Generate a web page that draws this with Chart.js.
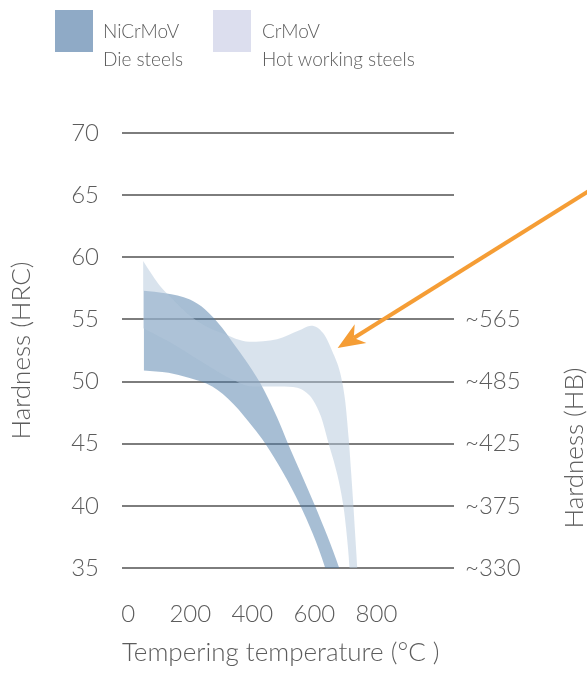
<!DOCTYPE html>
<html>
<head>
<meta charset="utf-8">
<script src="https://cdn.jsdelivr.net/npm/chart.js@4.4.1/dist/chart.umd.min.js"></script>
<style>
  html, body { margin: 0; padding: 0; background: #fff; }
  #wrap { position: relative; width: 587px; height: 692px; overflow: hidden; }
  #chart { position: absolute; left: 0; top: 0; }
  .txt { position: absolute; font-family: Lato, "Open Sans", sans-serif; font-weight: 300; color: #5c5c5c; white-space: nowrap; }
  .legend-swatch { position: absolute; width: 38px; height: 42px; }
  .legend-text { font-size: 19px; line-height: 28px; }
  #hbTitle { font-size: 26px; width: 240px; height: 32px; line-height: 32px; text-align: center;
             left: 453px; top: 432px; transform: rotate(-90deg); transform-origin: 50% 50%; }
</style>
</head>
<body>
<div id="wrap">
  <canvas id="chart" width="587" height="692"></canvas>
  <div class="legend-swatch" style="left:55px; top:10px; background:#8faac6;"></div>
  <div class="txt legend-text" style="left:103px; top:17px;">NiCrMoV<br>Die steels</div>
  <div class="legend-swatch" style="left:213px; top:10px; background:#dcdeee;"></div>
  <div class="txt legend-text" style="left:262px; top:17px;">CrMoV<br>Hot working steels</div>
  <div class="txt" id="hbTitle">Hardness (HB)</div>
</div>
<script>
// Hardness band of NiCrMoV die steels (tempering temperature °C -> HRC)
const nicrmovUpperTemp = [50, 119, 199, 248, 302, 344, 376, 425, 480, 515, 602, 680, 710];
const nicrmovUpperHrc  = [57.3, 57.1, 56.6, 55.8, 54.35, 52.9, 51.8, 49.9, 47.1, 45.0, 40.0, 35.0, 32.5];
const nicrmovLowerTemp = [50, 130, 195, 271, 339, 403, 442, 555, 635, 710];
const nicrmovLowerHrc  = [50.9, 50.7, 50.3, 49.6, 48.2, 46.3, 45.0, 40.0, 35.0, 28.0];

// Hardness band of CrMoV hot working steels (secondary hardening peak near 600 °C)
const crmovUpperTemp = [48, 77, 102, 120, 160, 199, 248, 302, 390, 480, 550, 590, 628, 660, 683, 699, 711, 719, 726, 732, 738, 750];
const crmovUpperHrc  = [59.7, 58.6, 57.7, 57.2, 56.2, 55.3, 54.5, 53.9, 53.2, 53.4, 54.1, 54.5, 53.9, 52.3, 50.7, 48.5, 45.3, 42.5, 39.9, 37.5, 35.1, 28.0];
const crmovLowerTemp = [48, 125, 230, 340, 400, 490, 545, 575, 596, 621, 645, 674, 694, 705, 713, 740];
const crmovLowerHrc  = [54.3, 53.3, 51.7, 50.1, 49.6, 49.6, 49.5, 49.1, 48.5, 47.2, 45.1, 42.5, 39.9, 37.5, 35.1, 20.0];

// Axis ticks
const tempTicks = [0, 200, 400, 600, 800];
const hrcTicks = [35, 40, 45, 50, 55, 60, 65, 70];
const hbTickHrc = [55, 50, 45, 40, 35];
const hbTickLabels = ['~565', '~485', '~425', '~375', '~330'];

// Arrow pointing at the secondary hardening peak (data coordinates)
const peakArrow = { from: { x: 1540, y: 66.2 }, to: { x: 675, y: 52.7 } };

function edge(temps, hrc) {
  return temps.map((t, i) => ({ x: t, y: hrc[i] }));
}

const TICK_FONT = { family: 'Lato, "Open Sans", sans-serif', size: 24, weight: '300' };
const TITLE_FONT = { family: 'Lato, "Open Sans", sans-serif', size: 26, weight: '300' };
const TEXT = '#5c5c5c';

const edgeStyle = { borderWidth: 0, pointRadius: 0, cubicInterpolationMode: 'monotone' };

const arrowPlugin = {
  id: 'peakArrow',
  afterDraw(chart) {
    const { ctx, scales: { x, y } } = chart;
    const x1 = x.getPixelForValue(peakArrow.from.x), y1 = y.getPixelForValue(peakArrow.from.y);
    const x2 = x.getPixelForValue(peakArrow.to.x), y2 = y.getPixelForValue(peakArrow.to.y);
    const len = Math.hypot(x1 - x2, y1 - y2);
    const ux = (x1 - x2) / len, uy = (y1 - y2) / len;
    const nx = -uy, ny = ux;
    const headLen = 27, headHalf = 11, notch = 19;
    ctx.save();
    ctx.strokeStyle = '#f59d35';
    ctx.fillStyle = '#f59d35';
    ctx.lineWidth = 4;
    ctx.beginPath();
    ctx.moveTo(x1, y1);
    ctx.lineTo(x2 + ux * notch, y2 + uy * notch);
    ctx.stroke();
    ctx.beginPath();
    ctx.moveTo(x2, y2);
    ctx.lineTo(x2 + ux * headLen + nx * headHalf, y2 + uy * headLen + ny * headHalf);
    ctx.lineTo(x2 + ux * notch, y2 + uy * notch);
    ctx.lineTo(x2 + ux * headLen - nx * headHalf, y2 + uy * headLen - ny * headHalf);
    ctx.closePath();
    ctx.fill();
    ctx.restore();
  }
};

new Chart(document.getElementById('chart'), {
  type: 'line',
  data: {
    datasets: [
      Object.assign({ label: 'CrMoV upper', data: edge(crmovUpperTemp, crmovUpperHrc),
        backgroundColor: 'rgba(180,199,219,0.5)', fill: '+1' }, edgeStyle),
      Object.assign({ label: 'CrMoV lower', data: edge(crmovLowerTemp, crmovLowerHrc),
        fill: false }, edgeStyle),
      Object.assign({ label: 'NiCrMoV upper', data: edge(nicrmovUpperTemp, nicrmovUpperHrc),
        backgroundColor: 'rgba(79,125,169,0.5)', fill: '+1' }, edgeStyle),
      Object.assign({ label: 'NiCrMoV lower', data: edge(nicrmovLowerTemp, nicrmovLowerHrc),
        fill: false }, edgeStyle)
    ]
  },
  options: {
    responsive: false,
    animation: false,
    devicePixelRatio: 1,
    layout: { padding: { top: 133, left: 0, right: 0, bottom: 0 } },
    plugins: { legend: { display: false }, tooltip: { enabled: false } },
    scales: {
      x: {
        type: 'linear',
        min: -20,
        max: 1050,
        afterBuildTicks(scale) { scale.ticks = tempTicks.map(v => ({ value: v })); },
        afterFit(scale) { scale.height = 124; },
        grid: { display: false, drawTicks: false },
        border: { display: false },
        ticks: { autoSkip: false, maxRotation: 0, padding: 32, color: TEXT, font: TICK_FONT },
        title: { display: true, align: 'start', text: 'Tempering temperature (°C )', color: TEXT, font: TITLE_FONT, padding: { top: 0, bottom: 24 } }
      },
      y: {
        type: 'linear',
        position: 'left',
        min: 35,
        max: 70,
        afterBuildTicks(scale) { scale.ticks = hrcTicks.map(v => ({ value: v })); },
        afterFit(scale) { scale.width = 122; },
        grid: { color: '#7d7d7d', lineWidth: 2, drawTicks: false },
        border: { display: false },
        ticks: { autoSkip: false, padding: 23, color: TEXT, font: TICK_FONT },
        title: { display: true, text: 'Hardness (HRC)', color: TEXT, font: TITLE_FONT, padding: { top: 6, bottom: 0 } }
      },
      yHB: {
        type: 'linear',
        position: 'right',
        min: 35,
        max: 70,
        afterBuildTicks(scale) { scale.ticks = hbTickHrc.map(v => ({ value: v })); },
        afterFit(scale) { scale.width = 133; },
        grid: { display: false, drawTicks: false },
        border: { display: false },
        ticks: {
          autoSkip: false,
          padding: 11,
          color: TEXT,
          font: TICK_FONT,
          callback: (value) => hbTickLabels[hbTickHrc.indexOf(value)]
        }
      }
    }
  },
  plugins: [arrowPlugin]
});
</script>
</body>
</html>
